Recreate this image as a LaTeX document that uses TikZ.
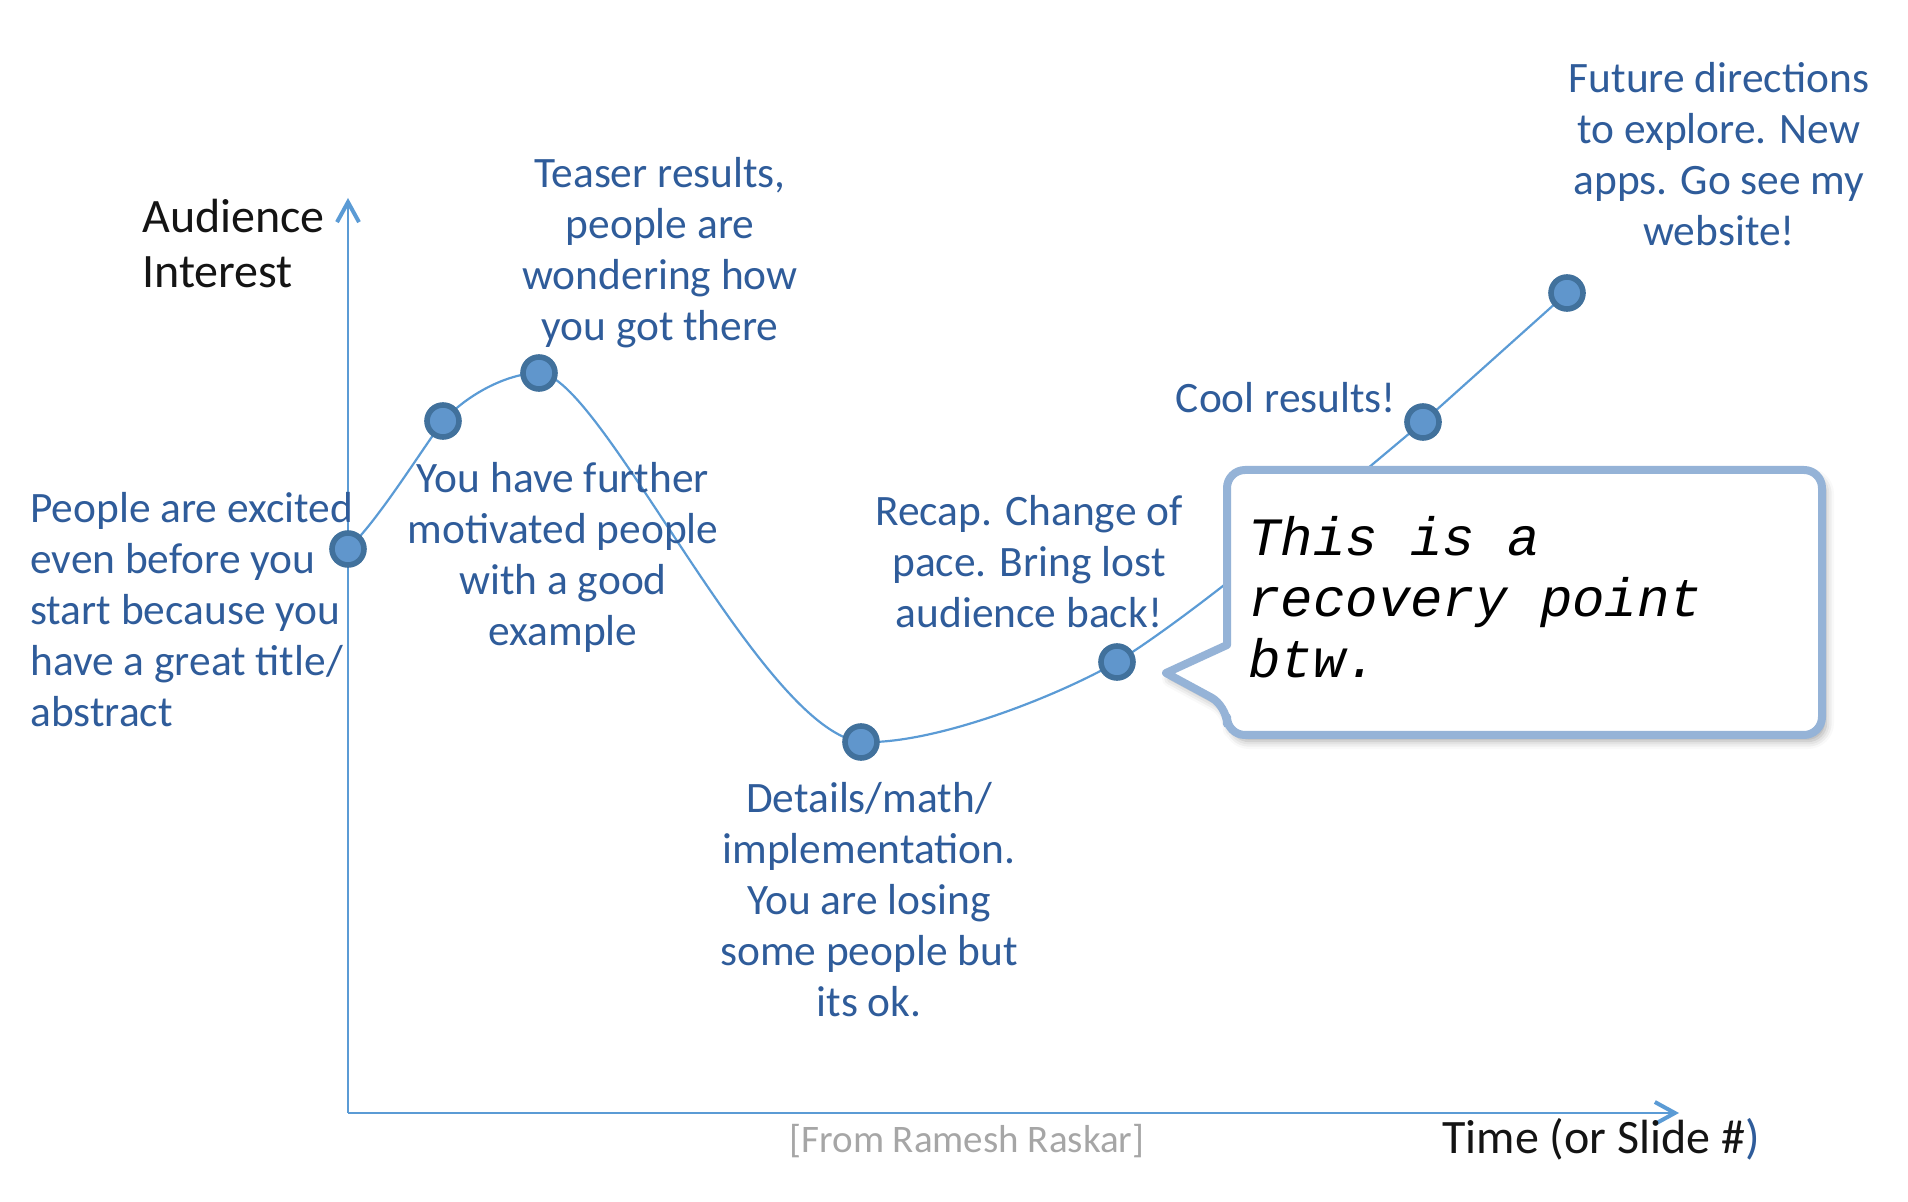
\documentclass[tikz,border=0pt]{standalone}
\usepackage{fontspec}
\setmainfont{Carlito}
\newfontfamily\calloutfont{Liberation Mono}
\usetikzlibrary{arrows.meta,positioning,shadows.blur}
\definecolor{axisblue}{HTML}{5B9BD5}
\definecolor{dotfill}{HTML}{6096CC}
\definecolor{dotring}{HTML}{41719C}
\definecolor{textblue}{HTML}{2F5C9A}
\definecolor{labelblack}{HTML}{141414}
\definecolor{calloutblue}{HTML}{95B3D7}
\definecolor{creditgray}{HTML}{A6A6A6}
\tikzset{dot/.style={circle,draw=dotring,fill=dotfill,line width=2.8pt,minimum size=16pt,inner sep=0pt},note/.style={text=textblue,font=\fontsize{21.7}{25.5}\selectfont,align=center,inner sep=0pt},axislabel/.style={text=labelblack,font=\fontsize{24}{27.5}\selectfont,align=left,inner sep=0pt},curve/.style={draw=axisblue,line width=1.1pt},axis/.style={draw=axisblue,line width=1pt,-{Straight Barb[length=10pt,width=11pt,line width=2pt]}},callout/.style={draw=calloutblue,fill=white,line width=4pt,line join=round,blur shadow={shadow xshift=2pt,shadow yshift=-3pt,shadow blur radius=4pt,shadow opacity=35}}}

\begin{document}
\begin{tikzpicture}[x=0.5pt,y=-0.5pt]
\useasboundingbox (0,0) rectangle (1908,1202);
% axes
\coordinate (origin) at (348,1113);
\coordinate (ytip) at (348,198);
\coordinate (xtip) at (1679,1113);
\draw[axis] (origin)--(ytip);
\draw[axis] (origin)--(xtip);
% interest curve
\foreach \i/\x/\y in {1/348/549,2/443/421,3/539/373,4/861/742,5/1117/662,6/1423/422,7/1567/293}{\coordinate (p\i) at (\x,\y);}
\draw[curve] (p1) .. controls (378,520) and (415,460) .. (p2) .. controls (470,392) and (510,373) .. (p3) .. controls (600,373) and (760,730) .. (p4) .. controls (930,745) and (1050,700) .. (p5) .. controls (1200,610) and (1330,500) .. (p6) -- (p7);
\foreach \i in {1,...,7}{\node[dot] (d\i) at (p\i) {};}
% callout
\draw[callout,rounded corners=9pt] (1227,600) -- (1227,470) -- (1822,470) -- (1822,735) -- (1227,735) -- (1227,706) [sharp corners] -- (1166,673) -- (1227,645) -- cycle;
\node[anchor=west,inner sep=0pt,align=left,font=\calloutfont\itshape\fontsize{27}{30.5}\selectfont] (recovery) at (1248,597) {This is a\\recovery point\\btw.};
% labels
\node[axislabel,anchor=west] (interest) at (142,244) {Audience\\Interest};
\node[axislabel] (time) at (1601,1139) {Time (or Slide \#{\color{textblue})}};
\node[note,anchor=west,align=left] (excited) at (30,610) {People are excited\\even before you\\start because you\\have a great title/\\abstract};
\node[note] (further) at (563,557) {You have further\\motivated people\\with a good\\example};
\node[note] (teaser) at (660,253) {Teaser results,\\people are\\wondering how\\you got there};
\node[note] (details) at (869,900) {Details/math/\\implementation.\\You are losing\\some people but\\its ok.};
\node[note] (recap) at (1029,562) {Recap. Change of\\pace. Bring lost\\audience back!};
\node[note] (cool) at (1286,398) {Cool results!};
\node[note] (future) at (1719,154) {Future directions\\to explore. New\\apps. Go see my\\website!};
\node[note,text=creditgray,font=\fontsize{19.5}{24}\selectfont] (credit) at (967,1141) {[From Ramesh Raskar]};
\end{tikzpicture}
\end{document}
